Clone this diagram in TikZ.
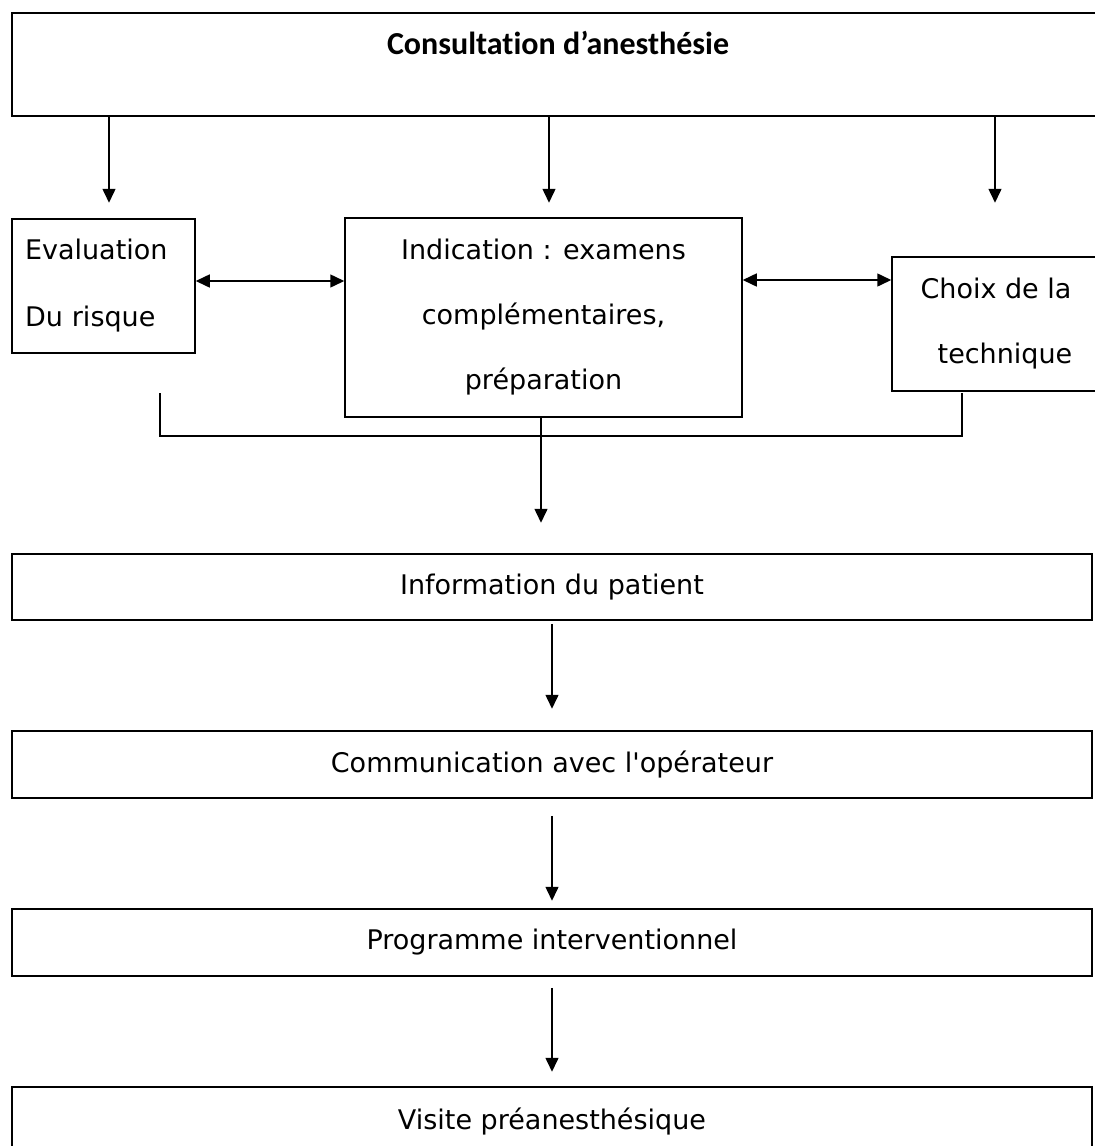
\documentclass[tikz,border=0pt]{standalone}
\usepackage{fontspec}
\setmainfont{DejaVu Sans}
\newfontfamily\titlefont[Ligatures=NoCommon]{Carlito}
\usepackage{tikz}
\usetikzlibrary{positioning, calc, arrows.meta}

\begin{document}
\begin{tikzpicture}[x=1pt, y=-1pt,
    every node/.style={font=\fontsize{27}{65}\selectfont},
    box/.style={draw, line width=1.5pt, inner sep=0pt, align=center},
    arr/.style={line width=1.5pt, -{Triangle[length=14pt,width=13pt]}},
    darr/.style={line width=1.5pt, {Triangle[length=14pt,width=13pt]}-{Triangle[length=14pt,width=13pt]}}]
    \useasboundingbox (0,0) rectangle (1095,1146);
    \clip (0,0) rectangle (1095,1146);

    % top box and title
    \node[box, minimum width=1088pt, minimum height=103pt] (top) at (556,64.5) {};
    \node (title) at (558,43) {\titlefont\bfseries\fontsize{32}{38}\selectfont Consultation d’anesthésie};

    % middle row
    \node[box, minimum width=183pt, minimum height=134pt, text width=157pt, align=left,
          font=\fontsize{27}{67}\selectfont] (eval) at (103.5,286) {Evaluation\\Du risque};
    \node[box, minimum width=397pt, minimum height=199pt] (ind) at (543.5,317.5)
        {Indication : examens\\complémentaires,\\préparation};
    \node[box, minimum width=208pt, minimum height=134pt] (choix) at (996,324) {Choix de la\\\hspace*{18pt}technique};

    \foreach \t/\dx in {eval/5.5,ind/5.5,choix/-1}
        \draw[arr] ([xshift=\dx pt]top.south -| \t.north) -- ++(0,86);

    \draw[darr] ([yshift=5pt]eval.east) -- ([yshift=5pt]eval.east -| ind.west);
    \draw[darr] ([yshift=37.5pt]ind.east) -- ([yshift=37.5pt]ind.east -| choix.west);

    % bracket under the row
    \coordinate (bl) at (160,393);
    \coordinate (br) at (962,393);
    \coordinate (jl) at (160,436);
    \coordinate (jr) at (962,436);
    \draw[line width=1.5pt] (bl) -- (jl) -- (jr) -- (br);
    \draw[arr] ([xshift=-2.5pt]ind.south) -- ++(0,105);

    % lower chain
    \node[box, minimum width=1080pt, minimum height=66pt] (info) at (552,587) {Information du patient};
    \node[box, minimum width=1080pt, minimum height=67pt] (comm) at (552,764.5) {Communication avec l\textquotesingle opérateur};
    \node[box, minimum width=1080pt, minimum height=67pt] (prog) at (552,942.5) {Programme interventionnel};
    \node[box, minimum width=1080pt, minimum height=68pt] (visite) at (552,1121) {Visite préanesthésique};

    \draw[arr] ([yshift=-3pt]info.south) -- ++(0,85);
    \draw[arr] ([yshift=-17pt]comm.south) -- ++(0,85);
    \draw[arr] ([yshift=-11pt]prog.south) -- ++(0,84);
\end{tikzpicture}
\end{document}
